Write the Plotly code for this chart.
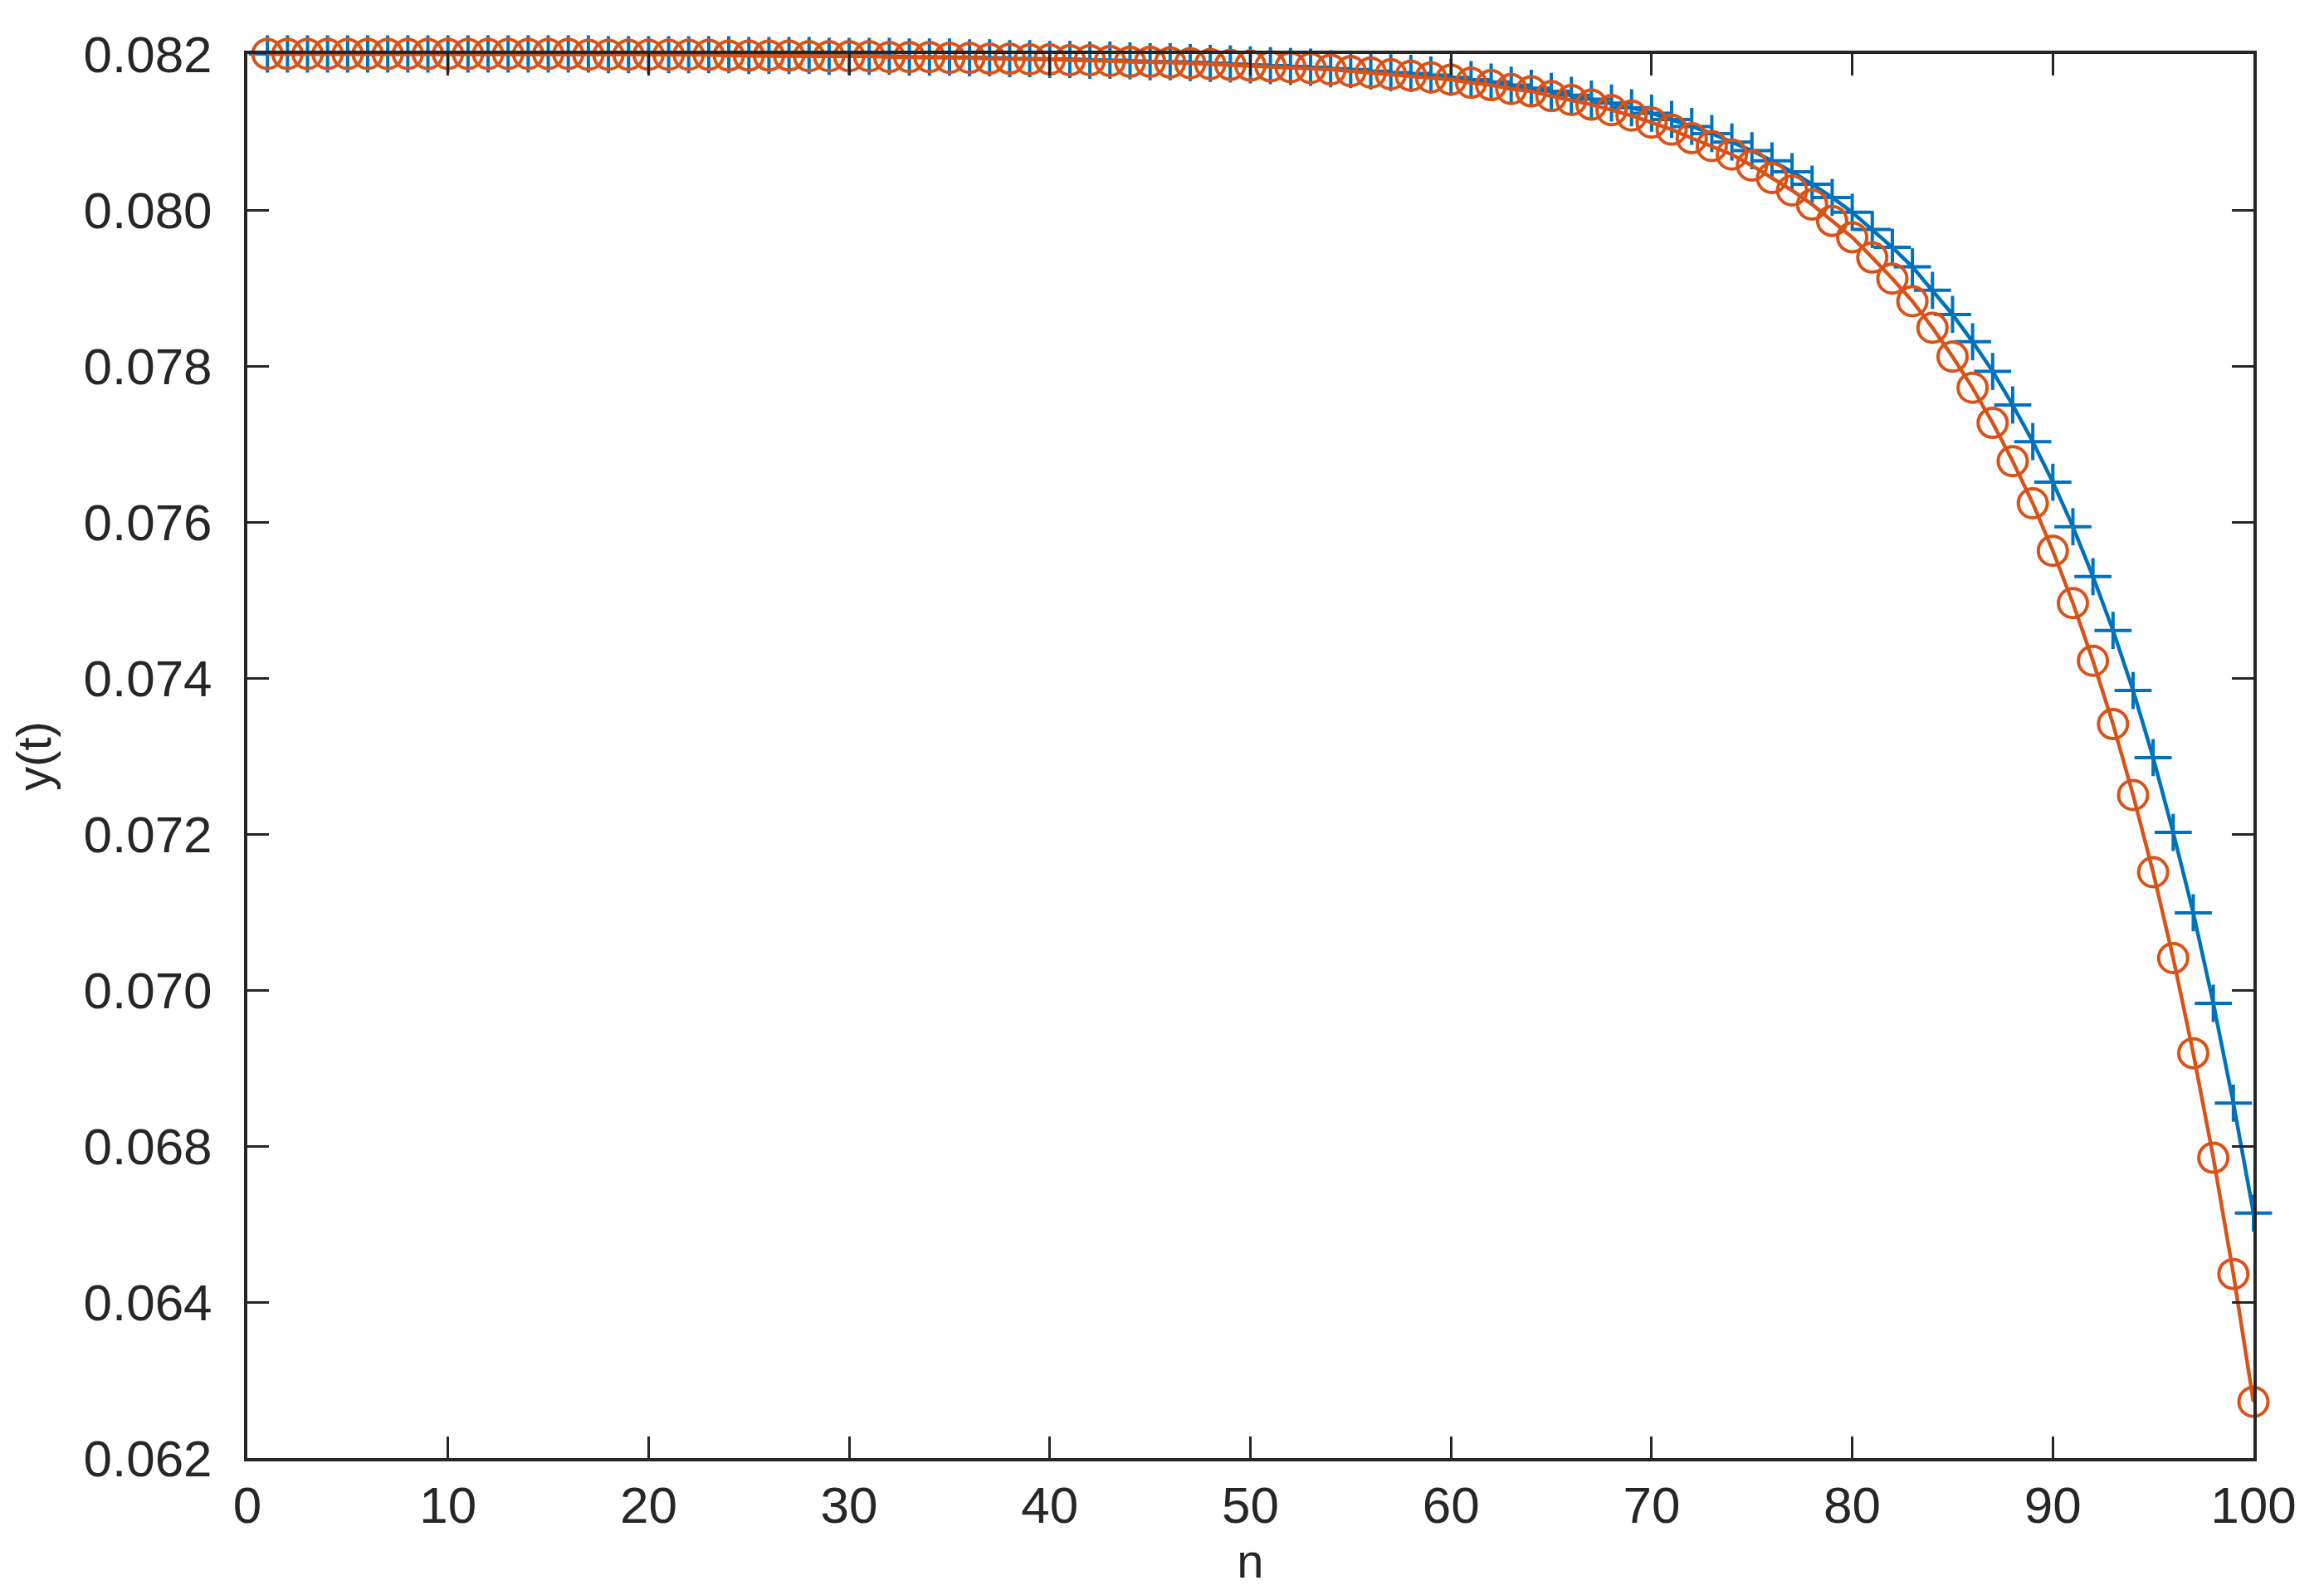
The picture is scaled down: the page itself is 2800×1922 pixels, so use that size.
import plotly.graph_objects as go

# ── Data ─────────────────────────────────────────────────────────────────────
n = list(range(1, 101))

y_plus = [
    0.08200, 0.08200, 0.08200, 0.08200, 0.08200, 0.08200, 0.08200, 0.08200, 0.08200, 0.08200,
    0.08200, 0.08200, 0.08200, 0.08200, 0.08200, 0.08200, 0.08200, 0.08199, 0.08199, 0.08199,
    0.08199, 0.08199, 0.08199, 0.08199, 0.08198, 0.08198, 0.08198, 0.08198, 0.08197, 0.08197,
    0.08197, 0.08197, 0.08196, 0.08196, 0.08196, 0.08195, 0.08195, 0.08194, 0.08194, 0.08193,
    0.08193, 0.08192, 0.08192, 0.08191, 0.08190, 0.08190, 0.08189, 0.08188, 0.08187, 0.08186,
    0.08185, 0.08184, 0.08183, 0.08181, 0.08180, 0.08178, 0.08176, 0.08175, 0.08173, 0.08170,
    0.08167, 0.08164, 0.08160, 0.08156, 0.08152, 0.08147, 0.08142, 0.08137, 0.08131, 0.08124,
    0.08116, 0.08107, 0.08098, 0.08087, 0.08076, 0.08063, 0.08049, 0.08033, 0.08016, 0.07997,
    0.07975, 0.07952, 0.07927, 0.07897, 0.07866, 0.07831, 0.07793, 0.07750, 0.07703, 0.07651,
    0.07594, 0.07530, 0.07461, 0.07384, 0.07298, 0.07202, 0.07099, 0.06983, 0.06855, 0.06714,
]

y_circle = [
    0.08200, 0.08200, 0.08200, 0.08200, 0.08200, 0.08200, 0.08200, 0.08200, 0.08200, 0.08200,
    0.08200, 0.08200, 0.08200, 0.08200, 0.08200, 0.08200, 0.08199, 0.08199, 0.08199, 0.08199,
    0.08199, 0.08199, 0.08199, 0.08198, 0.08198, 0.08198, 0.08198, 0.08197, 0.08197, 0.08197,
    0.08197, 0.08196, 0.08196, 0.08196, 0.08195, 0.08195, 0.08194, 0.08194, 0.08193, 0.08193,
    0.08192, 0.08192, 0.08191, 0.08190, 0.08190, 0.08189, 0.08188, 0.08187, 0.08186, 0.08185,
    0.08184, 0.08183, 0.08182, 0.08180, 0.08178, 0.08176, 0.08174, 0.08172, 0.08170, 0.08167,
    0.08163, 0.08160, 0.08155, 0.08152, 0.08146, 0.08141, 0.08135, 0.08128, 0.08121, 0.08112,
    0.08103, 0.08092, 0.08082, 0.08071, 0.08057, 0.08041, 0.08025, 0.08007, 0.07986, 0.07965,
    0.07939, 0.07912, 0.07883, 0.07849, 0.07812, 0.07772, 0.07727, 0.07678, 0.07624, 0.07563,
    0.07496, 0.07422, 0.07341, 0.07250, 0.07151, 0.07041, 0.06919, 0.06785, 0.06636, 0.06472,
]

x_ticks = [0, 10, 20, 30, 40, 50, 60, 70, 80, 90, 100]
y_tickvals = [0.082, 0.080, 0.078, 0.076, 0.074, 0.072, 0.070, 0.068, 0.066, 0.064]
y_ticktext = ["0.082", "0.080", "0.078", "0.076", "0.074", "0.072", "0.070", "0.068", "0.064", "0.062"]

# ── Style ────────────────────────────────────────────────────────────────────
BLUE = "#0072BD"
ORANGE = "#D95319"
AXIS = "#262626"
FONT = "Liberation Sans, Arial, sans-serif"

AXIS_STYLE = dict(
    showline=True, linecolor=AXIS, linewidth=4, mirror="ticks",
    ticks="inside", ticklen=26, tickwidth=3, tickcolor=AXIS,
    showgrid=False, zeroline=False,
    tickfont=dict(family=FONT, size=62, color=AXIS),
)

fig = go.Figure()
fig.add_trace(go.Scatter(
    x=n, y=y_plus, mode="lines+markers", cliponaxis=False,
    line=dict(color=BLUE, width=4.5),
    marker=dict(symbol="cross-thin-open", size=32, line=dict(color=BLUE, width=4)),
    showlegend=False,
))
fig.add_trace(go.Scatter(
    x=n, y=y_circle, mode="lines+markers", cliponaxis=False,
    line=dict(color=ORANGE, width=4.5),
    marker=dict(symbol="circle-open", size=35, line=dict(color=ORANGE, width=4)),
    showlegend=False,
))

fig.update_layout(
    width=2800, height=1922,
    paper_bgcolor="white", plot_bgcolor="white",
    margin=dict(l=290, r=93, t=57, b=173),
    font=dict(family=FONT, color=AXIS),
    xaxis=dict(
        range=[0, 100], tickvals=x_ticks, ticklabelstandoff=0,
        title=dict(text="n", font=dict(family=FONT, size=58, color=AXIS), standoff=12),
        **AXIS_STYLE,
    ),
    yaxis=dict(
        range=[0.064, 0.082], tickvals=y_tickvals, ticktext=y_ticktext,
        ticklabelstandoff=26,
        title=dict(text="y(t)", font=dict(family=FONT, size=58, color=AXIS), standoff=28),
        **AXIS_STYLE,
    ),
)

fig.write_html("out.html")
